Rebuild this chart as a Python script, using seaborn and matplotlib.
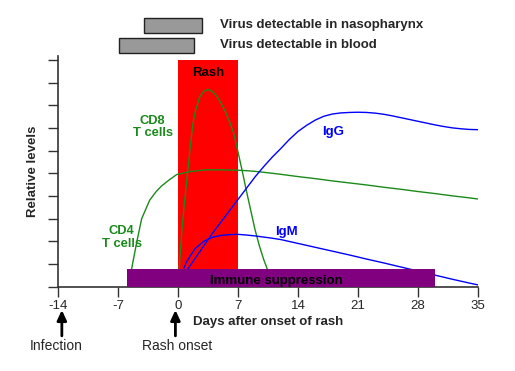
import matplotlib
matplotlib.use("Agg")
import matplotlib.pyplot as plt
from matplotlib.patches import Rectangle
import seaborn as sns
import pandas as pd

# ---- data ----
cd4_days = [-5.8, -5.4, -4.82, -4.24, -3.3, -2.5, -1.9, -1.0, -0.15, 1.4, 3, 4, 5, 6, 7, 8,
            9, 10, 12, 14, 16, 18, 20, 22, 24, 26, 28, 30, 32, 34, 35]
cd4_vals = [0.0, 0.81, 1.95, 3.0, 3.82, 4.22, 4.45, 4.72, 4.95, 5.08, 5.15, 5.16, 5.16,
            5.15, 5.14, 5.12, 5.09, 5.05, 4.96, 4.86, 4.77, 4.67, 4.58, 4.49, 4.39, 4.30,
            4.20, 4.11, 4.01, 3.92, 3.87]

cd8_days = [0.0, 0.25, 0.5, 0.75, 1.0, 1.25, 1.5, 1.75, 2.0, 2.5, 3.0, 3.5, 4.0, 4.5, 5.0,
            5.5, 6.0, 6.5, 7.0, 7.5, 8.0, 8.5, 9.0, 9.5, 10.0, 10.5, 11.0]
cd8_vals = [0.0, 1.4, 2.7, 3.7, 4.6, 5.5, 6.4, 7.2, 7.7, 8.35, 8.62, 8.71, 8.62, 8.42, 8.12,
            7.75, 7.3, 6.77, 5.95, 5.1, 4.2, 3.35, 2.5, 1.8, 1.2, 0.7, 0.3]

igm_days = [0.2, 0.6, 1, 1.5, 2, 3, 4, 5, 6, 7, 8, 9, 10, 11, 12, 14, 16, 18, 20, 22, 24,
            26, 28, 30, 32, 34, 35]
igm_vals = [0.0, 0.74, 1.1, 1.4, 1.68, 2.0, 2.18, 2.26, 2.3, 2.31, 2.28, 2.24, 2.19, 2.14,
            2.08, 1.91, 1.74, 1.57, 1.40, 1.22, 1.05, 0.87, 0.69, 0.51, 0.33, 0.16, 0.08]

igg_days = [0.3, 1, 2, 3, 4, 5, 6, 7, 8, 9, 10, 11, 12, 13, 14, 15, 16, 17, 18, 19, 20, 21,
            22, 23, 24, 25, 26, 27, 28, 29, 30, 31, 32, 33, 34, 35]
igg_vals = [0.0, 0.7, 1.25, 1.8, 2.35, 2.85, 3.35, 3.85, 4.35, 4.85, 5.3, 5.72, 6.1, 6.5,
            6.85, 7.12, 7.35, 7.52, 7.62, 7.67, 7.69, 7.7, 7.69, 7.66, 7.61, 7.54, 7.46,
            7.38, 7.3, 7.22, 7.14, 7.07, 7.01, 6.97, 6.94, 6.93]

x_ticks = [-14, -7, 0, 7, 14, 21, 28, 35]
y_ticks = list(range(0, 11))

rash_span = (0, 7)
suppression_span = (-6, 30)
naso_span = (-3.95, 2.85)
blood_span = (-6.9, 1.85)

# ---- styling ----
sns.set_style("ticks")
plt.rcParams["font.family"] = ["Liberation Sans", "DejaVu Sans"]

fig = plt.figure(figsize=(5.15, 3.71), dpi=100)
ax = fig.add_axes([0.1126, 0.2272, 0.8155, 0.623])

GREEN = "#1a8a1a"
BLUE = "#0000ff"
FS = 9.5

# rash
ax.add_patch(Rectangle((rash_span[0], 0), rash_span[1] - rash_span[0], 10.0,
                       facecolor="#ff0000", edgecolor="none", zorder=1))
ax.text(3.5, 9.43, "Rash", ha="center", va="center", fontsize=FS, fontweight="bold",
        color="black", zorder=5)

def draw(days, vals, color):
    df = pd.DataFrame({"day": days, "level": vals})
    sns.lineplot(data=df, x="day", y="level", ax=ax, color=color, linewidth=1.0,
                 zorder=3, sort=False, estimator=None)

draw(cd4_days, cd4_vals, GREEN)
draw(cd8_days, cd8_vals, GREEN)
draw(igm_days, igm_vals, BLUE)
draw(igg_days, igg_vals, BLUE)

# immune suppression bar
ax.add_patch(Rectangle((suppression_span[0], 0), suppression_span[1] - suppression_span[0], 0.78,
                       facecolor="#800080", edgecolor="none", zorder=4, clip_on=False))
ax.text(11.5, 0.27, "Immune suppression", ha="center", va="center", fontsize=FS,
        fontweight="bold", color="black", zorder=6)

# labels on curves
ax.text(-2.95, 7.05, "CD8\nT cells", ha="center", va="center", fontsize=9.3,
        fontweight="bold", color=GREEN, linespacing=1.1)
ax.text(-6.55, 2.17, "CD4\nT cells", ha="center", va="center", fontsize=9.3,
        fontweight="bold", color=GREEN, linespacing=1.1)
ax.text(18.1, 6.84, "IgG", ha="center", va="center", fontsize=FS, fontweight="bold", color=BLUE)
ax.text(12.6, 2.43, "IgM", ha="center", va="center", fontsize=FS, fontweight="bold", color=BLUE)

# virus detection bars above the plot
ax.add_patch(Rectangle((naso_span[0], 11.2), naso_span[1] - naso_span[0], 0.64,
                       facecolor="#999999", edgecolor="#222222", linewidth=1.0, clip_on=False))
ax.add_patch(Rectangle((blood_span[0], 10.32), blood_span[1] - blood_span[0], 0.64,
                       facecolor="#999999", edgecolor="#222222", linewidth=1.0, clip_on=False))
ax.text(4.9, 11.55, "Virus detectable in nasopharynx", ha="left", va="center", fontsize=FS,
        fontweight="bold", clip_on=False)
ax.text(4.9, 10.66, "Virus detectable in blood", ha="left", va="center", fontsize=FS,
        fontweight="bold", clip_on=False)

# axes
ax.set_xlim(-14, 35)
ax.set_ylim(0, 10.2)
ax.set_xticks(x_ticks)
ax.set_xticklabels([str(t) for t in x_ticks], fontsize=FS)
ax.set_yticks(y_ticks)
ax.set_yticklabels([])
ax.tick_params(axis="both", direction="out", length=7, width=1.0, color="#333333")
ax.tick_params(axis="x", pad=2.5)
ax.set_xlabel("Days after onset of rash", fontsize=FS, fontweight="bold", labelpad=3)
ax.set_ylabel("Relative levels", fontsize=FS, fontweight="bold", labelpad=3)
for s in ["top", "right"]:
    ax.spines[s].set_visible(False)
for s in ["left", "bottom"]:
    ax.spines[s].set_color("#333333")
    ax.spines[s].set_linewidth(1.2)
ax.set_facecolor("white")

# arrows below
for xd, lab_x, lab in [(-13.55, -14.2, "Infection"), (-0.3, -0.1, "Rash onset")]:
    ax.annotate("", xy=(xd, -1.03), xytext=(xd, -2.17), xycoords="data",
                arrowprops=dict(arrowstyle="-|>,head_length=0.6,head_width=0.28",
                                color="black", lw=2.0, shrinkA=0, shrinkB=0),
                annotation_clip=False)
    ax.text(lab_x, -2.6, lab, ha="center", va="center", fontsize=10, clip_on=False)

fig.savefig("out.png", dpi=100)
